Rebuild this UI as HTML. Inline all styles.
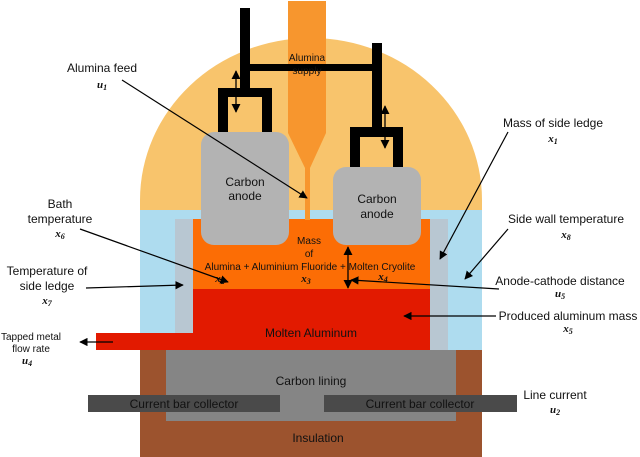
<!DOCTYPE html>
<html><head><meta charset="utf-8"><style>
html,body{margin:0;padding:0;background:#fff;}
svg{display:block;}
text{font-family:"Liberation Sans",sans-serif;fill:#111;}
.m{font-family:"Liberation Serif",serif;font-style:italic;font-weight:bold;}
</style></head><body>
<svg width="640" height="457" viewBox="0 0 640 457" xmlns="http://www.w3.org/2000/svg">
<defs>
<marker id="a" viewBox="0 0 10 10" refX="9" refY="5" markerWidth="7" markerHeight="7" orient="auto-start-reverse"><path d="M0,0 L10,5 L0,10 z" fill="#000"/></marker>
</defs>
<path d="M140,211 L140,200 A171,162 0 0 1 482,200 L482,211 z" fill="#f8c46c"/>
<rect x="140" y="210" width="342" height="140" fill="#aedcef"/>
<rect x="175" y="219" width="18" height="114" fill="#b8c7d2"/>
<rect x="430" y="219" width="18" height="131" fill="#b8c7d2"/>
<rect x="193" y="219" width="237" height="70" fill="#fc6d05"/>
<rect x="193" y="289" width="237" height="61" fill="#e21a00"/>
<rect x="96" y="333" width="100" height="17" fill="#e21a00"/>
<rect x="140" y="350" width="342" height="107" fill="#9c532e"/>
<rect x="166" y="350" width="290" height="71" fill="#858585"/>
<rect x="88" y="395" width="192" height="17" fill="#4a4a4a"/>
<rect x="324" y="395" width="193" height="17" fill="#4a4a4a"/>
<rect x="288" y="1" width="38" height="132" fill="#f7962e"/>
<path d="M288,133 L326,133 L310,168 L305,168 z" fill="#f7962e"/>
<rect x="305" y="168" width="5" height="52" fill="#f7962e"/>
<rect x="240" y="8" width="10" height="82" fill="#000"/>
<rect x="250" y="64" width="125" height="7" fill="#000"/>
<rect x="372" y="43" width="10" height="86" fill="#000"/>
<path d="M218,88 H272 V132 H262 V97 H228 V132 H218 z" fill="#000"/>
<path d="M350,127 H403 V167 H393 V137 H360 V167 H350 z" fill="#000"/>
<line x1="236" y1="71" x2="236" y2="112" stroke="#000" stroke-width="1.3" marker-start="url(#a)" marker-end="url(#a)"/>
<line x1="385" y1="106" x2="385" y2="148" stroke="#000" stroke-width="1.3" marker-start="url(#a)" marker-end="url(#a)"/>
<rect x="201" y="132" width="88" height="113" rx="13" fill="#b3b3b3"/>
<rect x="333" y="167" width="88" height="78" rx="13" fill="#b3b3b3"/>
<text x="245" y="186" font-size="12" text-anchor="middle">Carbon</text>
<text x="245" y="200" font-size="12" text-anchor="middle">anode</text>
<text x="377" y="203" font-size="12" text-anchor="middle">Carbon</text>
<text x="377" y="218" font-size="12" text-anchor="middle">anode</text>
<text x="307" y="61" font-size="10" text-anchor="middle">Alumina</text>
<text x="307" y="74" font-size="10" text-anchor="middle">supply</text>
<text x="309" y="244" font-size="10" text-anchor="middle">Mass</text>
<text x="309" y="257" font-size="10" text-anchor="middle">of</text>
<text x="310" y="270" font-size="10" text-anchor="middle">Alumina + Aluminium Fluoride + Molten Cryolite</text>
<text x="220" y="282" font-size="11" class="m" text-anchor="middle">x<tspan font-size="8" dy="2">2</tspan></text>
<text x="306" y="282" font-size="11" class="m" text-anchor="middle">x<tspan font-size="8" dy="2">3</tspan></text>
<text x="383" y="280" font-size="11" class="m" text-anchor="middle">x<tspan font-size="8" dy="2">4</tspan></text>
<line x1="348" y1="247" x2="348" y2="288" stroke="#000" stroke-width="1.3" marker-start="url(#a)" marker-end="url(#a)"/>
<text x="311" y="337" font-size="12" text-anchor="middle">Molten Aluminum</text>
<text x="311" y="385" font-size="12" text-anchor="middle">Carbon lining</text>
<text x="184" y="408" font-size="12" text-anchor="middle" fill="#111">Current bar collector</text>
<text x="420" y="408" font-size="12" text-anchor="middle">Current bar collector</text>
<text x="318" y="442" font-size="12" text-anchor="middle">Insulation</text>
<text x="102" y="72" font-size="12" text-anchor="middle">Alumina feed</text>
<text x="102" y="88" font-size="11" class="m" text-anchor="middle">u<tspan font-size="8" dy="2">1</tspan></text>
<line x1="122" y1="80" x2="307" y2="198" stroke="#000" stroke-width="1.2" marker-end="url(#a)"/>
<text x="60" y="208" font-size="12" text-anchor="middle">Bath</text>
<text x="60" y="223" font-size="12" text-anchor="middle">temperature</text>
<text x="60" y="237" font-size="11" class="m" text-anchor="middle">x<tspan font-size="8" dy="2">6</tspan></text>
<line x1="80" y1="229" x2="228" y2="282" stroke="#000" stroke-width="1.2" marker-end="url(#a)"/>
<text x="47" y="275" font-size="12" text-anchor="middle">Temperature of</text>
<text x="47" y="290" font-size="12" text-anchor="middle">side ledge</text>
<text x="47" y="304" font-size="11" class="m" text-anchor="middle">x<tspan font-size="8" dy="2">7</tspan></text>
<line x1="86" y1="288" x2="183" y2="285" stroke="#000" stroke-width="1.2" marker-end="url(#a)"/>
<text x="31" y="340" font-size="10" text-anchor="middle">Tapped metal</text>
<text x="31" y="352" font-size="10" text-anchor="middle">flow rate</text>
<text x="27" y="364" font-size="11" class="m" text-anchor="middle">u<tspan font-size="8" dy="2">4</tspan></text>
<line x1="113" y1="342" x2="80" y2="342" stroke="#000" stroke-width="1.2" marker-end="url(#a)"/>
<text x="553" y="127" font-size="12" text-anchor="middle">Mass of side ledge</text>
<text x="553" y="142" font-size="11" class="m" text-anchor="middle">x<tspan font-size="8" dy="2">1</tspan></text>
<line x1="508" y1="132" x2="440" y2="259" stroke="#000" stroke-width="1.2" marker-end="url(#a)"/>
<text x="566" y="223" font-size="12" text-anchor="middle">Side wall temperature</text>
<text x="566" y="238" font-size="11" class="m" text-anchor="middle">x<tspan font-size="8" dy="2">8</tspan></text>
<line x1="508" y1="229" x2="465" y2="279" stroke="#000" stroke-width="1.2" marker-end="url(#a)"/>
<text x="560" y="285" font-size="12" text-anchor="middle">Anode-cathode distance</text>
<text x="560" y="297" font-size="11" class="m" text-anchor="middle">u<tspan font-size="8" dy="2">5</tspan></text>
<line x1="499" y1="289" x2="351" y2="280" stroke="#000" stroke-width="1.2" marker-end="url(#a)"/>
<text x="568" y="320" font-size="12" text-anchor="middle">Produced aluminum mass</text>
<text x="568" y="332" font-size="11" class="m" text-anchor="middle">x<tspan font-size="8" dy="2">5</tspan></text>
<line x1="496" y1="316" x2="404" y2="316" stroke="#000" stroke-width="1.2" marker-end="url(#a)"/>
<text x="555" y="399" font-size="12" text-anchor="middle">Line current</text>
<text x="555" y="413" font-size="11" class="m" text-anchor="middle">u<tspan font-size="8" dy="2">2</tspan></text>
</svg>
</body></html>
